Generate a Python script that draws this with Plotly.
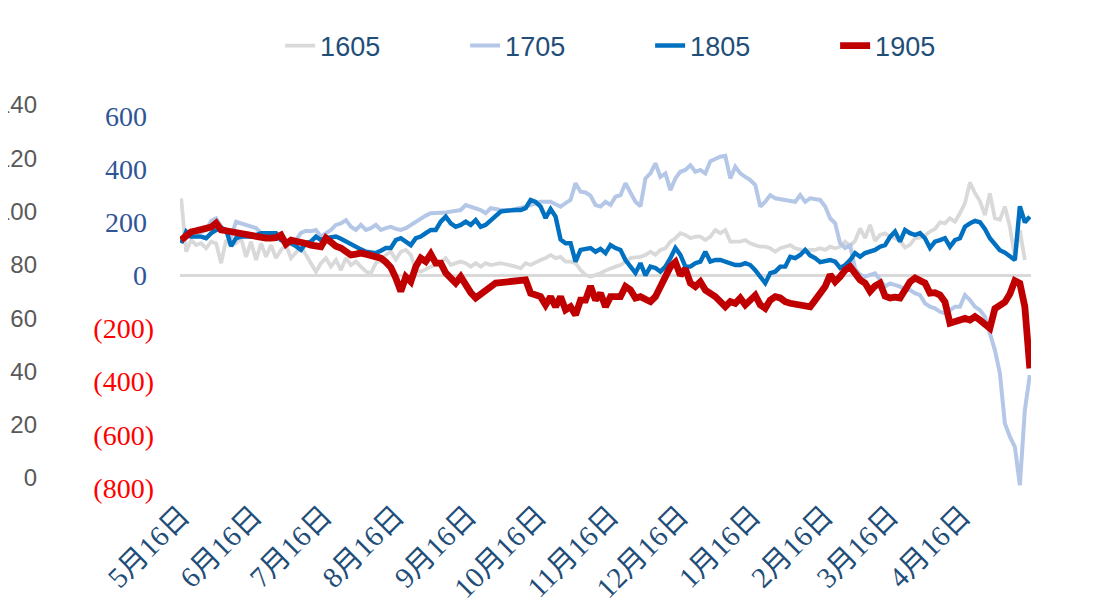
import pandas as pd
import plotly.graph_objects as go

# ---------------- data ----------------
START_DATE = "2018-05-16"
END_DATE = "2019-05-15"
N_POINTS = 171
dates = pd.date_range(START_DATE, END_DATE, periods=N_POINTS)

s1605 = [290, 89, 133, 114, 121, 102, 127, 121, 46, 133,
         114, 121, 140, 70, 127, 58, 121, 70, 114, 65,
         96, 114, 65, 89, 108, 77, 46, 14, 46, 65,
         33, 58, 20, 65, 39, 52, 33, 15, 8, 46,
         58, 77, 89, 60, 89, 96, 77, 20, 14, 25,
         33, 40, 46, 65, 39, 46, 52, 46, 33, 46,
         33, 46, 39, 42, 46, 42, 39, 33, 27, 46,
         39, 50, 58, 65, 77, 65, 70, 52, 52, 46,
         20, 2, -5, 2, 8, 18, 27, 33, 39, 52,
         65, 68, 70, 77, 89, 77, 96, 102, 127, 140,
         159, 152, 140, 146, 146, 133, 146, 171, 159, 171,
         127, 127, 127, 133, 121, 114, 108, 108, 102, 89,
         102, 108, 114, 102, 96, 92, 96, 96, 102, 96,
         108, 102, 108, 127, 110, 130, 177, 140, 190, 130,
         152, 158, 145, 140, 130, 105, 115, 140, 142, 150,
         165, 175, 200, 196, 215, 202, 234, 271, 350, 310,
         280, 227, 309, 215, 210, 259, 183, 70, 170, 58,
         None]

s1705 = [140, 145, 146, 155, 165, 171, 205, 215, 185, 164,
         146, 202, 196, 190, 184, 178, 159, 146, 146, 146,
         133, 121, 127, 133, 160, 168, 166, 171, 146, 159,
         171, 190, 196, 208, 183, 171, 190, 171, 178, 190,
         171, 178, 183, 175, 171, 178, 190, 202, 215, 225,
         234, 234, 234, 237, 240, 243, 246, 265, 259, 252,
         246, 234, 253, 250, 246, 246, 246, 250, 253, 259,
         265, 271, 277, 277, 277, 268, 259, 272, 284, 347,
         315, 312, 300, 265, 259, 277, 265, 296, 302, 347,
         315, 277, 260, 365, 384, 422, 371, 384, 321, 365,
         390, 397, 415, 390, 397, 384, 430, 440, 447, 450,
         365, 409, 384, 371, 359, 340, 259, 277, 302, 290,
         287, 284, 280, 277, 302, 277, 290, 287, 284, 259,
         215, 196, 121, 103, 114, 25, 2, -5, 2, 8,
         -17, -42, -30, -36, -42, -55, -55, -67, -74, -105,
         -118, -124, -137, -143, -130, -118, -118, -74, -93, -118,
         -130, -155, -218, -281, -368, -557, -607, -645, -790, -507,
         -375]

s1805 = [121, 165, 146, 146, 146, 140, 159, 170, 178, 171,
         110, 140, 146, 146, 146, 152, 159, 159, 159, 159,
         133, 127, 121, 110, 96, 121, 127, 146, 133, 140,
         143, 146, 138, 127, 118, 108, 98, 89, 86, 84,
         93, 103, 103, 133, 140, 127, 114, 140, 146, 159,
         171, 171, 202, 221, 196, 183, 190, 202, 190, 208,
         183, 190, 208, 227, 240, 243, 246, 246, 246, 253,
         284, 277, 259, 216, 250, 221, 135, 121, 121, 52,
         96, 100, 103, 89, 100, 84, 114, 103, 96, 58,
         33, 9, 46, 0, 33, 28, 14, 33, 65, 103,
         77, 33, 33, 46, 52, 89, 52, 58, 58, 52,
         46, 39, 39, 46, 39, 20, -5, -29, 9, 14,
         33, 33, 70, 65, 77, 96, 75, 65, 50, 55,
         58, 52, 28, 39, 58, 84, 70, 84, 89, 96,
         108, 114, 145, 165, 127, 171, 159, 152, 159, 140,
         103, 127, 133, 140, 108, 133, 140, 183, 196, 205,
         200, 175, 140, 115, 95, 86, 72, 58, 260, 200,
         221]

s1905 = [133, 150, 164, 168, 171, 175, 182, 197, 171, 168,
         164, 160, 159, 150, 146, 142, 140, 140, 140, 142,
         152, 118, 133, 130, 127, 120, 114, 110, 108, 140,
         122, 110, 103, 88, 77, 80, 84, 80, 77, 72,
         65, 50, 30, -10, -60, -5, -24, 33, 65, 52,
         80, 46, 46, 9, -10, -29, -5, -42, -65, -85,
         -70, -55, -40, -29, -27, -25, -24, -22, -20, -17,
         -67, -72, -80, -111, -80, -118, -80, -130, -118, -149,
         -93, -93, -40, -93, -67, -118, -80, -80, -80, -42,
         -55, -85, -80, -90, -99, -80, -42, -10, 33, 50,
         0, 25, -29, -42, -24, -55, -67, -80, -99, -118,
         -99, -105, -85, -111, -93, -75, -111, -124, -93, -80,
         -85, -99, -105, -108, -111, -114, -118, -93, -67, -42,
         2, -24, -5, 20, 33, 9, -17, -29, -60, -40,
         -29, -78, -85, -82, -85, -55, -24, -10, -17, -29,
         -67, -65, -74, -100, -180, -172, -165, -162, -168, -155,
         -168, -187, -199, -125, -112, -100, -70, -20, -30, -118,
         -350]

series_names = ["1605", "1705", "1805", "1905"]
series_values = [s1605, s1705, s1805, s1905]

tick_dates = ["2018-05-16", "2018-06-16", "2018-07-16", "2018-08-16",
              "2018-09-16", "2018-10-16", "2018-11-16", "2018-12-16",
              "2019-01-16", "2019-02-16", "2019-03-16", "2019-04-16"]
tick_labels = ["5月16日", "6月16日", "7月16日", "8月16日", "9月16日", "10月16日",
               "11月16日", "12月16日", "1月16日", "2月16日", "3月16日", "4月16日"]

y_ticks = [600, 400, 200, 0, -200, -400, -600, -800]
y_tick_labels = ["600", "400", "200", "0", "(200)", "(400)", "(600)", "(800)"]

left_ticks = [0, 20, 40, 60, 80, 100, 120, 140]
left_tick_labels = ["0", "20", "40", "60", "80", "100", "120", "140"]

# ---------------- styles ----------------
colors = {"1605": "#D9D9D9", "1705": "#B4C7E7", "1805": "#0070C0", "1905": "#C00000"}
widths = {"1605": 3.8, "1705": 4, "1805": 4.4, "1905": 6.8}
POS_COLOR = "#2F5597"
NEG_COLOR = "#FF0000"

W, H = 1109, 612
OFF = 8  # page body margin
PLOT_L, PLOT_R, PLOT_T, PLOT_B = 180 - OFF, 1031 - OFF, 100 - OFF, 492 - OFF

fig = go.Figure()
for name, vals in zip(series_names, series_values):
    fig.add_trace(go.Scatter(
        x=dates, y=vals, name=name, mode="lines",
        line=dict(color=colors[name], width=widths[name], shape="linear"),
        connectgaps=False,
    ))

ytext = []
for v, lab in zip(y_ticks, y_tick_labels):
    if v < 0:
        ytext.append(f"<span style='color:{NEG_COLOR}'>{lab}</span>")
    else:
        ytext.append(f"<span style='color:{POS_COLOR}'>{lab}</span>\u00a0")

# helper trace so the secondary (left, cut-off) axis is drawn
fig.add_trace(go.Scatter(x=[dates[0]], y=[None], yaxis="y2", showlegend=False,
                         hoverinfo="skip", mode="lines"))

fig.update_layout(
    width=W, height=H,
    margin=dict(l=0, r=0, t=PLOT_T, b=H - PLOT_B, autoexpand=False),
    paper_bgcolor="white", plot_bgcolor="white",
    showlegend=True,
    legend=dict(
        orientation="h", x=0.579, xanchor="center",
        y=(PLOT_B - (46 - OFF)) / (PLOT_B - PLOT_T), yanchor="middle",
        font=dict(family="Liberation Sans", size=27, color="#1F4E79"),
        entrywidth=140, traceorder="normal",
        bgcolor="rgba(0,0,0,0)",
    ),
    xaxis=dict(
        type="date",
        domain=[PLOT_L / W, PLOT_R / W],
        range=["2018-05-15 12:00", "2019-05-15 12:00"],
        tickmode="array", tickvals=tick_dates, ticktext=tick_labels,
        tickangle=-45,
        tickfont=dict(family="Liberation Serif, Noto Sans CJK SC", size=29, color="#1F4E79"),
        showgrid=False, zeroline=False, showline=False, ticks="",
        automargin=False,
    ),
    yaxis=dict(
        range=[-815.2, 660.1],
        tickmode="array", tickvals=y_ticks, ticktext=ytext,
        tickfont=dict(family="Liberation Serif", size=28, color=POS_COLOR),
        showgrid=False, showline=False, ticks="",
        zeroline=True, zerolinecolor="#D9D9D9", zerolinewidth=2.5,
        ticklabelstandoff=25,
        automargin=False,
    ),
    yaxis2=dict(
        overlaying="y", anchor="free", side="left", position=(37 - OFF) / W,
        range=[-5.26, 141.9],
        tickmode="array", tickvals=left_ticks, ticktext=left_tick_labels,
        tickfont=dict(family="Liberation Sans", size=24, color="#595959"),
        showgrid=False, showline=False, zeroline=False, ticks="",
        automargin=False,
    ),
)

fig.write_html("out.html")
